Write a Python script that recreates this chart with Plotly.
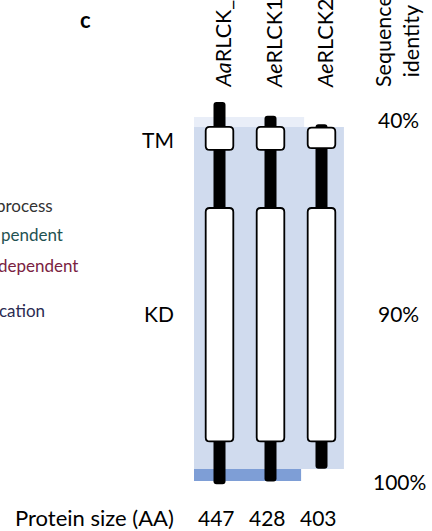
import plotly.graph_objects as go

# ---- data -------------------------------------------------------------
proteins = ["<i>Aa</i>RLCK_C", "<i>Ae</i>RLCK1", "<i>Ae</i>RLCK2"]
protein_size = [447, 428, 403]          # residues
align_start = [0, 16, 26]               # first residue position in the alignment
tm_span = [(29, 56), (13, 40), (4, 28)]     # TM domain, residue coordinates
kd_span = [(124, 397), (108, 381), (98, 371)]  # kinase domain, residue coordinates

identity_labels = ["40%", "90%", "100%"]
identity_start = [17.5, 29.2, 429.2]    # alignment coordinates
identity_end = [29.2, 429.2, 443.3]
identity_cols = [(0, 1), (0, 2), (0, 1)]

legend_words = ["process", "pendent", "dependent", "cation"]

# ---- styling / scales -------------------------------------------------
W, H = 432, 531
PX_X = 51.0      # px per column
PX_Y = 0.855     # px per residue
X0_PX = 219.5    # px of first column
Y0_PX = 102.0    # px of alignment position 0

FONT = "Lato"
id_colors = ["#e9eef8", "#d0dbee", "#7e9ed6"]
id_right_pad = [0.66, 0.44, 0.60]

x_range = [-X0_PX / PX_X, (W - X0_PX) / PX_X]
y_range = [(H - Y0_PX) / PX_Y, -Y0_PX / PX_Y]


def rrect(x0, x1, y0, y1, r_px):
    rx = r_px / PX_X
    ry = r_px / PX_Y
    return (f"M {x0+rx},{y0} L {x1-rx},{y0} Q {x1},{y0} {x1},{y0+ry} "
            f"L {x1},{y1-ry} Q {x1},{y1} {x1-rx},{y1} "
            f"L {x0+rx},{y1} Q {x0},{y1} {x0},{y1-ry} "
            f"L {x0},{y0+ry} Q {x0},{y0} {x0+rx},{y0} Z")


def py(px):
    return 1 - px / H


def px_x(px):
    return px / W


shapes = []

# sequence-identity shading
for i in range(len(identity_labels)):
    c0, c1 = identity_cols[i]
    shapes.append(dict(type="rect", xref="x", yref="y",
                       x0=c0 - 0.5, x1=c1 + id_right_pad[i],
                       y0=identity_start[i], y1=identity_end[i],
                       fillcolor=id_colors[i], line=dict(width=0), layer="below"))

# protein backbones
stem_half = 6.0 / PX_X
for i, size in enumerate(protein_size):
    s = align_start[i]
    shapes.append(dict(type="path", xref="x", yref="y",
                       path=rrect(i - stem_half, i + stem_half, s, s + size, 3),
                       fillcolor="black", line=dict(width=0)))

# domains
box_half = 13.8 / PX_X
for i in range(len(proteins)):
    s = align_start[i]
    for (a, b) in (tm_span[i], kd_span[i]):
        shapes.append(dict(type="path", xref="x", yref="y",
                           path=rrect(i - box_half, i + box_half, s + a, s + b, 4),
                           fillcolor="white", line=dict(color="black", width=1.8)))

annotations = []
txt = dict(family=FONT, size=21, color="black")


def note(text, x, y, xanchor="center", yanchor="middle", xref="paper", **kw):
    annotations.append(dict(text=text, x=x, y=y, xref=xref, yref="paper",
                            xanchor=xanchor, yanchor=yanchor, showarrow=False,
                            **kw))


# panel letter
note("<b>c</b>", px_x(85), py(19), font=dict(family=FONT, size=22, color="black"))

# protein names (rotated)
for i, name in enumerate(proteins):
    note(name, i, py(90), xref="x", yanchor="bottom", textangle=-90, xshift=3,
         font=dict(family=FONT, size=21.5, color="black"))

note("Sequence<br>identity", px_x(397), py(89), yanchor="bottom", textangle=-90,
     align="center", font=dict(family=FONT, size=21.5, color="black"))

# identity values
id_label_y = [119, 313, 481]
id_label_x = [398, 398, 399]
for lab, ly, lx in zip(identity_labels, id_label_y, id_label_x):
    note(lab, px_x(lx), py(ly), font=txt)

# domain labels
note("TM", px_x(176), py(139), xanchor="right", font=txt)
note("KD", px_x(176), py(313), xanchor="right", font=txt)

# protein sizes
note("Protein size (AA)", px_x(176), py(517), xanchor="right",
     font=dict(family=FONT, size=22, color="black"))
for i, size in enumerate(protein_size):
    note(str(size), i, py(517), xref="x", xshift=-3, font=txt)

# legend fragments on the left edge
leg_colors = ["#333333", "#1f5252", "#7a2242", "#2b2b52"]
leg_right = [55, 65, 80, 47]
leg_y = [205, 235, 265, 310]
for w, c, r, y in zip(legend_words, leg_colors, leg_right, leg_y):
    note(w, px_x(r), py(y), xanchor="right", font=dict(family=FONT, size=17, color=c))

fig = go.Figure()
fig.add_trace(go.Scatter(x=[0, 1, 2], y=[0, 0, 0], mode="markers",
                         marker=dict(opacity=0), hoverinfo="skip", showlegend=False))
fig.update_layout(
    width=W, height=H, margin=dict(l=0, r=0, t=0, b=0),
    paper_bgcolor="white", plot_bgcolor="white",
    xaxis=dict(range=x_range, visible=False, showgrid=False, zeroline=False, fixedrange=True),
    yaxis=dict(range=y_range, visible=False, showgrid=False, zeroline=False, fixedrange=True),
    shapes=shapes, annotations=annotations, showlegend=False,
)
fig.write_html("out.html")
